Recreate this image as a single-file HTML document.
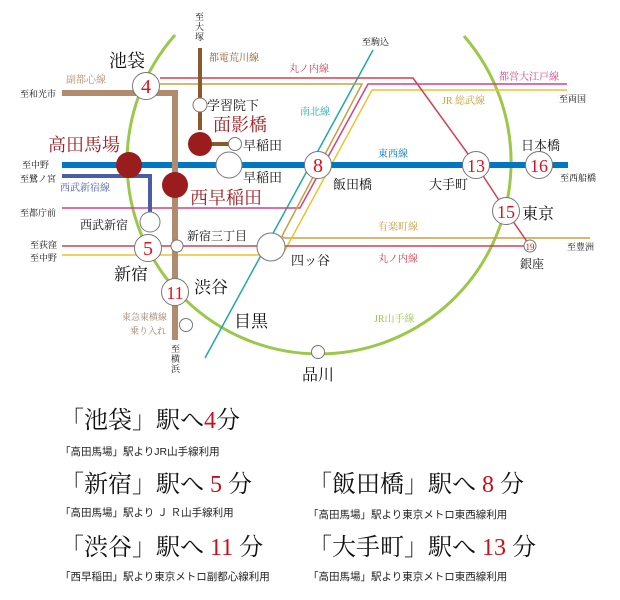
<!DOCTYPE html>
<html><head><meta charset="utf-8"><style>
body{margin:0;background:#fff;}
svg{display:block;}
.s{font-family:"Liberation Serif","Noto Serif CJK SC",serif;}
.g{font-family:"Liberation Sans","Noto Sans CJK JP",sans-serif;}
</style></head><body>
<svg width="620" height="600" xmlns="http://www.w3.org/2000/svg" class="s">
<path d="M175,35 A192,192 0 1 0 464,36" fill="none" stroke="#9cc84a" stroke-width="3"/>
<line x1="373" y1="50" x2="205" y2="358" stroke="#20a8a8" stroke-width="1.5"/>
<polyline points="567,84 368,84 300,208 62,208" fill="none" stroke="#d0408a" stroke-width="1.5"/>
<polyline points="160,84 362,84 282,236 284,238 590,238" fill="none" stroke="#c8a040" stroke-width="1.5"/>
<polyline points="567,90 372,90 284,252 282,255 62,255" fill="none" stroke="#f0c030" stroke-width="1.5"/>
<polyline points="160,78 413,78 476,165 506,211 530,246 62,246" fill="none" stroke="#d04050" stroke-width="1.5"/>
<line x1="62" y1="165" x2="568" y2="165" stroke="#0077c0" stroke-width="6"/>
<polyline points="62,176 150,176 150,214" fill="none" stroke="#4a5ea8" stroke-width="4"/>
<polyline points="62,93 175,93 175,340" fill="none" stroke="#b08b6e" stroke-width="6"/>
<line x1="200" y1="48" x2="200" y2="130" stroke="#8b5a2b" stroke-width="4"/>
<line x1="200" y1="144" x2="232" y2="144" stroke="#8b5a2b" stroke-width="4"/>
<g fill="#fff" stroke="#777" stroke-width="1">
<circle cx="146" cy="86" r="13.5"/>
<circle cx="200" cy="105" r="7"/>
<circle cx="235" cy="144" r="6.5"/>
<circle cx="229" cy="165" r="13"/>
<circle cx="318" cy="165" r="13.5"/>
<circle cx="476" cy="165" r="13.5"/>
<circle cx="539" cy="165" r="13.5"/>
<circle cx="506" cy="211" r="13.5"/>
<circle cx="150" cy="222" r="10"/>
<circle cx="148" cy="248" r="13.5"/>
<circle cx="177" cy="246" r="6"/>
<circle cx="271" cy="247" r="14"/>
<circle cx="530" cy="246" r="6"/>
<circle cx="175" cy="292" r="13.5"/>
<circle cx="186" cy="325" r="6.5"/>
<circle cx="318" cy="352" r="6.5"/>
</g>
<g fill="#9b1c1c">
<circle cx="129" cy="165" r="13"/>
<circle cx="175" cy="185" r="13"/>
<circle cx="200" cy="144" r="12"/>
</g>
<g fill="#e0101c" text-anchor="middle" font-size="20">
<text x="146" y="93">4</text>
<text x="318" y="172">8</text>
<text x="476" y="172" font-size="18">13</text>
<text x="539" y="172" font-size="18">16</text>
<text x="506" y="218" font-size="18">15</text>
<text x="148" y="255">5</text>
<text x="175" y="299" font-size="18">11</text>
<text x="530" y="250" font-size="9">19</text>
</g>
<g fill="#111">
<text x="109" y="67" font-size="18">池袋</text>
<text x="207" y="110" font-size="13">学習院下</text>
<text x="243" y="150" font-size="13">早稲田</text>
<text x="243" y="182" font-size="13">早稲田</text>
<text x="333" y="189" font-size="13">飯田橋</text>
<text x="429" y="189" font-size="13">大手町</text>
<text x="521" y="150" font-size="13">日本橋</text>
<text x="522" y="219" font-size="16">東京</text>
<text x="520" y="268" font-size="12">銀座</text>
<text x="80" y="229" font-size="12">西武新宿</text>
<text x="187" y="240" font-size="12">新宿三丁目</text>
<text x="291" y="265" font-size="13">四ッ谷</text>
<text x="114" y="280" font-size="17">新宿</text>
<text x="194" y="293" font-size="17">渋谷</text>
<text x="234" y="327" font-size="17">目黒</text>
<text x="302" y="380" font-size="16">品川</text>
</g>
<g fill="#a01c22" font-size="18">
<text x="48" y="151">高田馬場</text>
<text x="213" y="131">面影橋</text>
<text x="190" y="204">西早稲田</text>
</g>
<g font-size="10">
<text x="66" y="83" fill="#b08b6e">副都心線</text>
<text x="209" y="61" fill="#8b5a2b">都電荒川線</text>
<text x="289" y="72" fill="#d04050">丸ノ内線</text>
<text x="300" y="115" fill="#20a8a8">南北線</text>
<text x="378" y="157" fill="#0077c0">東西線</text>
<text x="499" y="80" fill="#d0408a">都営大江戸線</text>
<text x="442" y="104" fill="#c8a040">JR 総武線</text>
<text x="378" y="230" fill="#c8a040">有楽町線</text>
<text x="378" y="262" fill="#d04050">丸ノ内線</text>
<text x="374" y="322" fill="#9cc84a">JR山手線</text>
<text x="60" y="191" fill="#4a5ea8">西武新宿線</text>
<text x="122" y="320" fill="#a08070" font-size="9">東急東横線</text>
<text x="130" y="334" fill="#a08070" font-size="9">乗り入れ</text>
</g>
<g font-size="9" fill="#111">
<text x="20" y="97">至和光市</text>
<text x="22" y="168">至中野</text>
<text x="20" y="182">至鷺ノ宮</text>
<text x="20" y="216">至都庁前</text>
<text x="30" y="248">至荻窪</text>
<text x="30" y="261">至中野</text>
<text x="362" y="45">至駒込</text>
<text x="559" y="102">至両国</text>
<text x="560" y="181">至西船橋</text>
<text x="567" y="250">至豊洲</text>
<text x="195" y="20">至</text><text x="195" y="30">大</text><text x="195" y="40">塚</text>
<text x="171" y="352">至</text><text x="171" y="362">横</text><text x="171" y="372">浜</text>
</g>
<g fill="#111" font-size="24">
<text x="60" y="428">「池袋」駅へ<tspan fill="#c8101c">4</tspan>分</text>
<text x="60" y="492">「新宿」駅へ <tspan fill="#c8101c">5</tspan> 分</text>
<text x="60" y="555">「渋谷」駅へ <tspan fill="#c8101c">11</tspan> 分</text>
<text x="308" y="492">「飯田橋」駅へ <tspan fill="#c8101c">8</tspan> 分</text>
<text x="308" y="555">「大手町」駅へ <tspan fill="#c8101c">13</tspan> 分</text>
</g>
<g fill="#222" font-size="10.5" class="g">
<text x="60" y="455">「高田馬場」駅よりJR山手線利用</text>
<text x="60" y="516">「高田馬場」駅より Ｊ Ｒ山手線利用</text>
<text x="60" y="580">「西早稲田」駅より東京メトロ副都心線利用</text>
<text x="308" y="518">「高田馬場」駅より東京メトロ東西線利用</text>
<text x="308" y="580">「高田馬場」駅より東京メトロ東西線利用</text>
</g>
</svg>
</body></html>
